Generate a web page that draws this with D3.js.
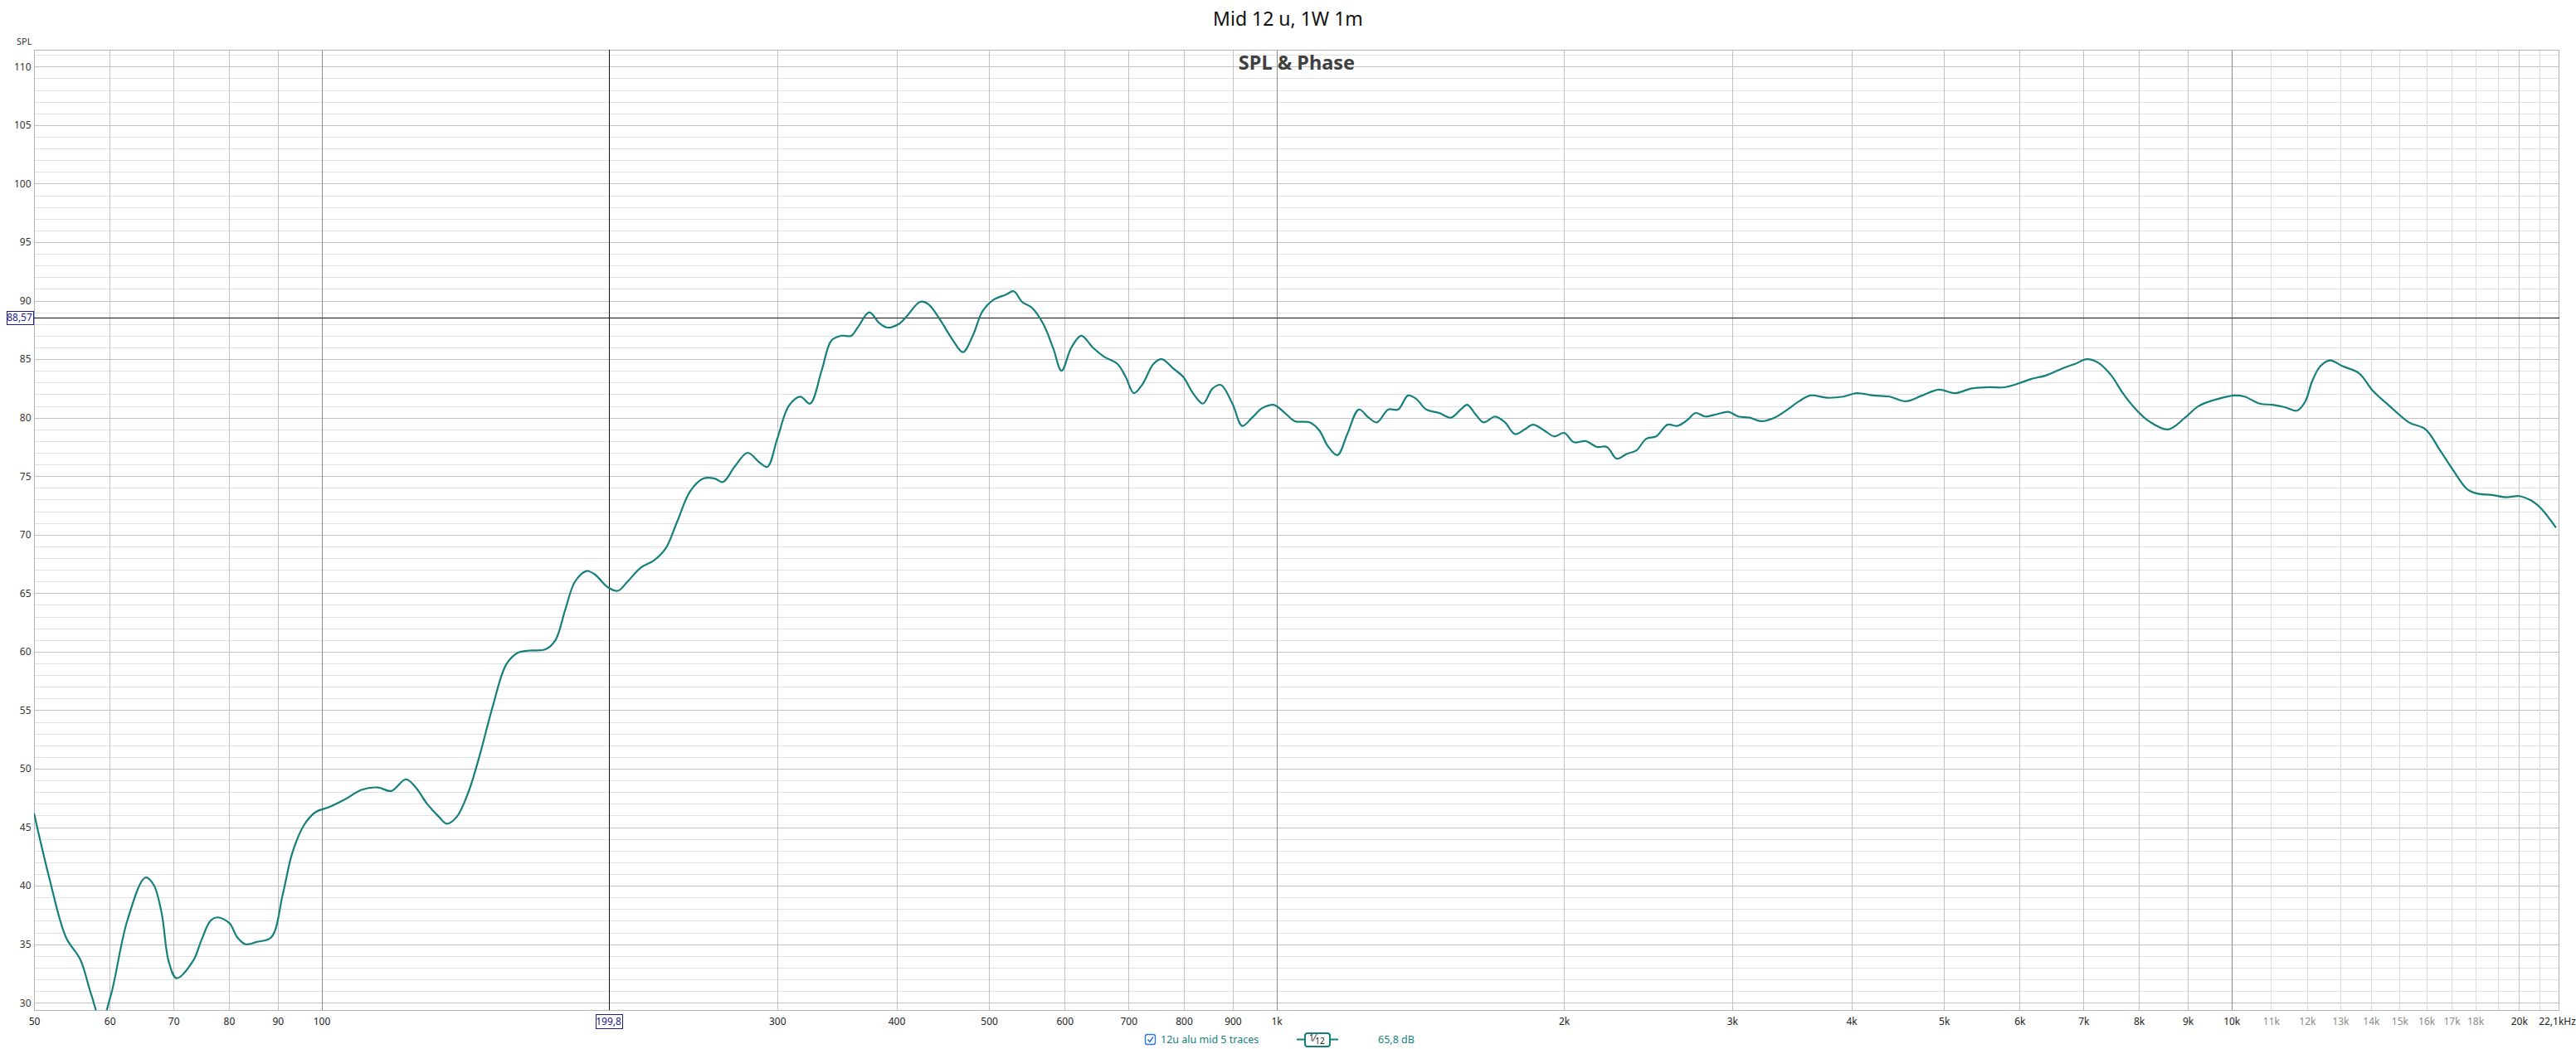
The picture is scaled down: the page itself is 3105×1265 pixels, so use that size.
<!DOCTYPE html>
<html>
<head>
<meta charset="utf-8">
<script src="https://cdn.jsdelivr.net/npm/d3@7/dist/d3.min.js"></script>
<style>
  html, body { margin: 0; padding: 0; background: #ffffff; }
  svg { display: block; }
  text { font-family: "Noto Sans", "Open Sans", "DejaVu Sans", sans-serif; }
</style>
</head>
<body>
<svg id="chart" width="3105" height="1265"></svg>
<script>
// ---------------- data ----------------
const title = "Mid 12 u, 1W 1m";
const subtitle = "SPL & Phase";
const seriesName = "12u alu mid 5 traces";
const seriesLevel = "65,8 dB";

const freqHz = [
  50, 51.9, 54.0, 55.9, 57.4, 58.8, 60.2, 62.6, 65.4, 66.7, 68.0, 69.2, 70.5, 73.4, 74.9, 76.5, 77.8,
  80.1, 81.6, 83.3, 85.5, 88.6, 91.1, 93.2, 95.9, 98.6, 101.7, 105.9, 110.1, 114.6, 118.3, 122.6,
  125.5, 129.0, 132.7, 135.3, 138.6, 142.5, 146.5, 151.2, 156.1, 160.5, 165.0, 171.6, 175.8, 180.0,
  184.3, 189.5, 193.3, 199.5, 204.3, 209.2, 216.0, 222.9, 229.2, 235.7, 243.2, 251.1, 258.1, 263.3,
  270.7, 279.4, 287.3, 293.0, 300.1, 308.5, 317.2, 324.8, 333.9, 342.0, 350.2, 358.6, 364.3, 374.6,
  383.6, 391.3, 402.2, 410.3, 423.5, 432.0, 444.1, 458.5, 469.5, 480.8, 492.3, 506.1, 520.4, 530.8,
  541.4, 554.4, 570.0, 583.9, 595.6, 609.9, 624.6, 642.1, 660.2, 681.4, 695.0, 709.0, 723.2, 743.5,
  758.4, 779.7, 798.4, 817.6, 837.3, 857.4, 874.6, 899.2, 920.8, 942.9, 965.6, 992.7, 1020.6, 1045.1,
  1083.0, 1109.1, 1131.2, 1158.4, 1186.2, 1219.6, 1248.9, 1273.9, 1309.7, 1341.2, 1373.4, 1400.9,
  1434.6, 1480.8, 1522.4, 1559.0, 1583.9, 1615.6, 1648.0, 1694.3, 1735.1, 1776.8, 1819.5, 1855.9,
  1908.0, 1953.9, 2000.9, 2049.0, 2106.6, 2165.8, 2217.9, 2271.2, 2325.8, 2381.7, 2439.0, 2497.6,
  2567.8, 2629.5, 2692.7, 2746.6, 2812.6, 2891.6, 2973.0, 3044.4, 3130.0, 3218.1, 3321.9, 3428.9,
  3525.3, 3624.4, 3770.9, 3923.3, 4050, 4213.7, 4384, 4561.2, 4745.6, 4938, 5137.5, 5345, 5561,
  5786, 5972, 6165, 6388, 6647, 6861, 7054, 7252, 7486, 7696, 7944, 8195, 8587, 8940, 9241, 9675,
  10080, 10320, 10707, 11040, 11370, 11710, 11950, 12145, 12390, 12686, 13070, 13600, 14063, 14640,
  15340, 15970, 16510, 17070, 17650, 18120, 18740, 19380, 20030, 20710, 21120, 21870
];
const splDb = [
  46.2, 40.6, 35.6, 33.7, 30.7, 28.4, 30.7, 37.0, 40.7, 40.1, 37.7, 33.5, 32.1, 33.6, 35.4, 37.0, 37.3,
  36.8, 35.6, 35.0, 35.2, 35.6, 39.3, 42.8, 45.2, 46.3, 46.7, 47.4, 48.2, 48.4, 48.1, 49.1,
  48.4, 47.0, 45.9, 45.3, 45.9, 48.0, 51.2, 55.4, 58.9, 59.9, 60.1, 60.2, 61.0, 63.6,
  66.0, 66.9, 66.6, 65.5, 65.2, 66.0, 67.2, 67.8, 68.8, 71.1, 73.7, 74.8, 74.8, 74.5,
  75.8, 77.0, 76.2, 75.8, 78.2, 81.0, 81.8, 81.2, 84.0, 86.6, 87.0, 87.0, 87.7, 89.0,
  88.1, 87.7, 88.0, 88.7, 89.9, 89.7, 88.4, 86.6, 85.6, 87.0, 89.1, 90.1, 90.5, 90.8,
  89.9, 89.4, 88.0, 85.9, 84.0, 86.0, 87.0, 86.0, 85.2, 84.6, 83.5, 82.1, 82.8, 84.6,
  85.0, 84.2, 83.5, 82.1, 81.2, 82.5, 82.8, 81.2, 79.3, 80.0, 80.8, 81.1, 80.4, 79.7,
  79.6, 78.9, 77.6, 76.8, 78.6, 80.7, 80.0, 79.6, 80.7, 80.7, 81.9, 81.6,
  80.7, 80.4, 80.0, 80.7, 81.1, 80.3, 79.6, 80.1, 79.6, 78.6, 79.0, 79.4,
  78.9, 78.4, 78.7, 77.9, 78.0, 77.5, 77.5, 76.5, 76.9, 77.2, 78.2, 78.4,
  79.4, 79.3, 79.8, 80.4, 80.1, 80.3, 80.5, 80.1, 80.0, 79.7, 80.0, 80.7,
  81.4, 81.9, 81.7, 81.8, 82.1, 81.9, 81.8, 81.4, 81.9, 82.4, 82.1, 82.5, 82.6,
  82.6, 82.9, 83.3, 83.6, 84.2, 84.6, 85.0, 84.7, 83.6, 82.1, 80.7, 79.7, 79.0, 80.0, 81.0, 81.6,
  81.9, 81.8, 81.2, 81.1, 80.9, 80.6, 81.4, 83.1, 84.4, 84.9, 84.4, 83.8, 82.3, 81.0,
  79.6, 79.0, 77.3, 75.5, 73.9, 73.5, 73.4, 73.2, 73.3, 72.8, 72.2, 70.6
];

// axis ticks
const yTicks = [30, 35, 40, 45, 50, 55, 60, 65, 70, 75, 80, 85, 90, 95, 100, 105, 110];
const xTickValues = [50, 60, 70, 80, 90, 100, 300, 400, 500, 600, 700, 800, 900, 1000, 2000, 3000, 4000,
  5000, 6000, 7000, 8000, 9000, 10000, 11000, 12000, 13000, 14000, 15000, 16000, 17000, 18000, 20000, 22050];
const xTickLabels = ["50", "60", "70", "80", "90", "100", "300", "400", "500", "600", "700", "800", "900", "1k",
  "2k", "3k", "4k", "5k", "6k", "7k", "8k", "9k", "10k", "11k", "12k", "13k", "14k", "15k", "16k", "17k", "18k",
  "20k", "22,1kHz"];
const xTickMinor = [11000, 12000, 13000, 14000, 15000, 16000, 17000, 18000];

// grid lines
const gridMajorHz = [100, 1000, 10000];
const gridNormalHz = [50, 60, 70, 80, 90, 200, 300, 400, 500, 600, 700, 800, 900,
  2000, 3000, 4000, 5000, 6000, 7000, 8000, 9000, 20000];
const gridFineHz = [11000, 12000, 13000, 14000, 15000, 16000, 17000, 18000, 19000, 21000, 22000];

// cursors
const cursorHz = 199.8;
const cursorHzLabel = "199,8";
const cursorDb = 88.57;
const cursorDbLabel = "88,57";

// ---------------- drawing ----------------
const svg = d3.select("#chart");
const W = 3105, H = 1265;
const plot = { left: 41, right: 3085, top: 60.3, bottom: 1218.3 };

const x = d3.scaleLog().domain([50, 22050]).range([plot.left, plot.right]);
const y = d3.scaleLinear().domain([29.36, 111.42]).range([plot.bottom, plot.top]);

const teal = "#157f7c";

svg.append("rect").attr("width", W).attr("height", H).attr("fill", "#ffffff");

svg.append("defs").append("clipPath").attr("id", "clip")
  .append("rect")
  .attr("x", plot.left).attr("y", plot.top)
  .attr("width", plot.right - plot.left).attr("height", plot.bottom - plot.top);

const grid = svg.append("g").attr("shape-rendering", "crispEdges");

// horizontal grid: 1 dB fine, 5 dB normal
const dbAll = d3.range(30, 112, 1);
grid.selectAll("line.hfine").data(dbAll.filter(d => d % 5 !== 0)).join("line")
  .attr("x1", plot.left).attr("x2", plot.right)
  .attr("y1", d => Math.round(y(d)) + 0.5).attr("y2", d => Math.round(y(d)) + 0.5)
  .attr("stroke", "#e0e0e0").attr("stroke-width", 1);
grid.selectAll("line.hnorm").data(yTicks).join("line")
  .attr("x1", plot.left).attr("x2", plot.right)
  .attr("y1", d => Math.round(y(d)) + 0.5).attr("y2", d => Math.round(y(d)) + 0.5)
  .attr("stroke", "#c2c2c2").attr("stroke-width", 1);

// vertical grid
function vlines(data, color) {
  grid.append("g").selectAll("line").data(data).join("line")
    .attr("x1", d => Math.round(x(d)) + 0.5).attr("x2", d => Math.round(x(d)) + 0.5)
    .attr("y1", plot.top).attr("y2", plot.bottom)
    .attr("stroke", color).attr("stroke-width", 1);
}
vlines(gridFineHz, "#dcdcdc");
vlines(gridNormalHz, "#c2c2c2");
vlines(gridMajorHz, "#8c8c8c");

// frame
svg.append("rect")
  .attr("x", plot.left + 0.5).attr("y", Math.round(plot.top) + 0.5)
  .attr("width", plot.right - plot.left - 1).attr("height", Math.round(plot.bottom) - Math.round(plot.top))
  .attr("fill", "none").attr("stroke", "#b4b4b4").attr("stroke-width", 1)
  .attr("shape-rendering", "crispEdges");

// subtitle inside plot
svg.append("text")
  .attr("x", (plot.left + plot.right) / 2).attr("y", 84)
  .attr("text-anchor", "middle")
  .attr("font-size", 23.5).attr("font-weight", "bold").attr("fill", "#404040")
  .text(subtitle);

// cursors
svg.append("line")
  .attr("x1", Math.round(x(cursorHz)) + 0.5).attr("x2", Math.round(x(cursorHz)) + 0.5)
  .attr("y1", plot.top).attr("y2", plot.bottom)
  .attr("stroke", "#111").attr("stroke-width", 1).attr("shape-rendering", "crispEdges");
svg.append("line")
  .attr("x1", plot.left).attr("x2", plot.right)
  .attr("y1", Math.round(y(cursorDb)) + 0.5).attr("y2", Math.round(y(cursorDb)) + 0.5)
  .attr("stroke", "#111").attr("stroke-width", 1).attr("shape-rendering", "crispEdges");

// curve
const pts = freqHz.map((f, i) => [f, splDb[i]]);
const line = d3.line()
  .x(d => x(d[0])).y(d => y(d[1]))
  .curve(d3.curveCatmullRom.alpha(0.5));
svg.append("path")
  .attr("clip-path", "url(#clip)")
  .attr("d", line(pts))
  .attr("fill", "none").attr("stroke", teal).attr("stroke-width", 2.2)
  .attr("stroke-linejoin", "round");

// y axis
const yAxis = d3.axisLeft(y).tickValues(yTicks).tickSize(0).tickPadding(3).tickFormat(d3.format("d"));
const gy = svg.append("g").attr("transform", `translate(${plot.left - 0.5},0)`).call(yAxis);
gy.select(".domain").remove();
gy.selectAll("text").attr("font-size", 12).attr("fill", "#333")
  .attr("font-family", '"Noto Sans", sans-serif');

// x axis
const labelOf = new Map(xTickValues.map((v, i) => [v, xTickLabels[i]]));
const xAxis = d3.axisBottom(x).tickValues(xTickValues).tickSize(0).tickPadding(9)
  .tickFormat(d => labelOf.get(d));
const gx = svg.append("g").attr("transform", `translate(0,${plot.bottom})`).call(xAxis);
gx.select(".domain").remove();
gx.selectAll("text").attr("font-size", 12)
  .attr("font-family", '"Noto Sans", sans-serif')
  .attr("fill", d => xTickMinor.includes(d) ? "#8a8a8a" : "#222");
gx.selectAll(".tick").filter(d => d === 22050).select("text").attr("dx", -3);

// SPL axis title
svg.append("text").attr("x", 20).attr("y", 54)
  .attr("font-size", 11).attr("fill", "#333").text("SPL");

// main title
svg.append("text").attr("x", W / 2).attr("y", 31)
  .attr("text-anchor", "middle").attr("font-size", 23).attr("fill", "#111")
  .text(title);

// cursor value boxes
function valueBox(cx, cy, w, h, label) {
  const g = svg.append("g");
  g.append("rect").attr("x", Math.round(cx - w / 2) + 0.5).attr("y", Math.round(cy - h / 2) + 0.5)
    .attr("width", w).attr("height", h)
    .attr("fill", "#fff").attr("stroke", "#1c1c8a").attr("stroke-width", 1);
  g.append("text").attr("x", cx).attr("y", cy + 4.5).attr("text-anchor", "middle")
    .attr("font-size", 12).attr("fill", "#1c1c8a").text(label);
}
valueBox(x(cursorHz), 1231, 32, 17, cursorHzLabel);
valueBox(23.5, y(cursorDb), 32, 16, cursorDbLabel);

// legend
const lg = svg.append("g");
lg.append("rect").attr("x", 1380.5).attr("y", 1247.5).attr("width", 12).attr("height", 12).attr("rx", 2.5)
  .attr("fill", "#fff").attr("stroke", "#2f76d6").attr("stroke-width", 1.4);
lg.append("path").attr("d", "M1383.5,1253.5 L1385.8,1256.2 L1390,1250.5")
  .attr("fill", "none").attr("stroke", "#2f76d6").attr("stroke-width", 1.5);
lg.append("text").attr("x", 1399).attr("y", 1258).attr("font-size", 12.5).attr("fill", teal)
  .text(seriesName);
lg.append("line").attr("x1", 1563).attr("x2", 1613).attr("y1", 1253.5).attr("y2", 1253.5)
  .attr("stroke", teal).attr("stroke-width", 2);
lg.append("rect").attr("x", 1573).attr("y", 1246).attr("width", 30).attr("height", 16).attr("rx", 3)
  .attr("fill", "#fff").attr("stroke", teal).attr("stroke-width", 2);
const frac = lg.append("text").attr("x", 1578).attr("y", 1256).attr("fill", "#222");
frac.append("tspan").attr("font-size", 10).attr("dy", -1).text("1");
frac.append("tspan").attr("font-size", 12).attr("dy", 1).text("⁄");
frac.append("tspan").attr("font-size", 10).attr("dy", 3).text("12");
lg.append("text").attr("x", 1661).attr("y", 1258).attr("font-size", 12.5).attr("fill", teal)
  .text(seriesLevel);
</script>
</body>
</html>
